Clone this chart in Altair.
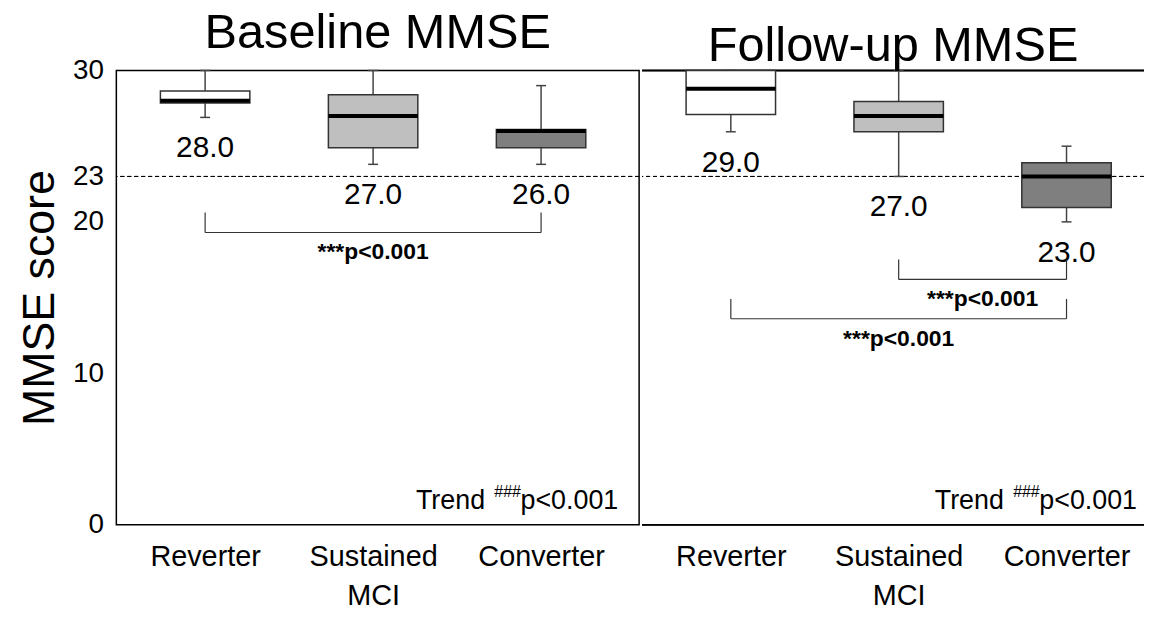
import json
import altair as alt
import pandas as pd

FONT = "Liberation Sans, Arial, Helvetica, sans-serif"

# ---------------- data ----------------
groups = ["Reverter", "Sustained MCI", "Converter"]
tick_labels = [["Reverter"], ["Sustained", "MCI"], ["Converter"]]
box_fills = ["#ffffff", "#bfbfbf", "#7f7f7f"]

# Baseline MMSE (whisker low, Q1, median, Q3, whisker high)
base_lo = [26.9, 23.8, 23.8]
base_q1 = [27.85, 24.9, 24.9]
base_med = [28.0, 27.0, 26.0]
base_q3 = [28.65, 28.4, 26.1]
base_hi = [30.0, 30.0, 29.0]
base_labels = ["28.0", "27.0", "26.0"]

# Follow-up MMSE
fu_lo = [25.95, 23.0, 20.0]
fu_q1 = [27.1, 25.95, 20.95]
fu_med = [28.8, 27.0, 23.0]
fu_q3 = [30.0, 27.95, 23.9]
fu_hi = [30.0, 30.0, 25.0]
fu_labels = ["29.0", "27.0", "23.0"]

cutoff = 23
y_ticks = [0, 10, 20, 23, 30]

base_brackets = [("Reverter", "Converter", 19.3)]
fu_brackets = [("Sustained MCI", "Converter", 16.2), ("Reverter", "Converter", 13.6)]
sig_text = "***p<0.001"
trend_parts = ["Trend", "###", "p<0.001"]

# ---------------- helpers ----------------
label_expr = json.dumps(tick_labels) + "[datum.value]"


def box_df(lo, q1, med, q3, hi, labels):
    return pd.DataFrame({
        "group": groups, "idx": list(range(len(groups))),
        "lo": lo, "q1": q1, "med": med, "q3": q3, "hi": hi, "label": labels,
    })


def bracket_df(brackets):
    rows = []
    for a, b, lvl in brackets:
        i, j = groups.index(a), groups.index(b)
        rows.append({"x1": i, "x2": j, "xm": (i + j) / 2, "level": lvl})
    return pd.DataFrame(rows)


def make_panel(df, br, title, width, x_domain, show_axis, trend_x):
    yscale = alt.Scale(domain=[0, 30], nice=False, zero=False)
    xscale = alt.Scale(domain=x_domain, nice=False, zero=False)
    if show_axis:
        yaxis = alt.Axis(values=y_ticks, title="MMSE score", titleFontSize=45,
                         titleFontWeight="normal", titleFont=FONT, titleColor="black",
                         titlePadding=10, labelFontSize=28, labelFont=FONT,
                         labelColor="black", labelPadding=13, ticks=False, tickSize=0,
                         domain=False, grid=False)
    else:
        yaxis = None
    xaxis = alt.Axis(values=[0, 1, 2], labelExpr=label_expr, labelFontSize=29,
                     labelFont=FONT, labelColor="black", labelPadding=18,
                     labelLineHeight=39, ticks=False, tickSize=0, domain=False,
                     grid=False, title=None)

    X = alt.X("idx:Q", scale=xscale, axis=xaxis)

    def Y(f):
        return alt.Y(f + ":Q", scale=yscale, axis=yaxis)

    base = alt.Chart(df)
    layers = []
    # cutoff dashed line
    layers.append(alt.Chart(df).mark_rule(color="black", strokeWidth=1, strokeDash=[4, 3]).encode(
        y=alt.YDatum(cutoff, scale=yscale, axis=yaxis)))
    if not show_axis:
        for v in (0, 30):
            layers.append(alt.Chart(df).mark_rule(color="black", strokeWidth=1.5).encode(
                y=alt.YDatum(v, scale=yscale, axis=yaxis)))
    # whiskers
    layers.append(base.mark_rule(color="#444444", strokeWidth=1.5).encode(
        x=X, y=Y("lo"), y2="hi"))
    layers.append(base.mark_tick(orient="horizontal", size=10, thickness=1.5, color="#444444",
                                 opacity=1).encode(x=X, y=Y("lo")))
    layers.append(base.mark_tick(orient="horizontal", size=10, thickness=1.5, color="#444444",
                                 opacity=1).encode(x=X, y=Y("hi")))
    # boxes
    layers.append(base.mark_bar(size=90, stroke="#333333", strokeWidth=1.5, opacity=1).encode(
        x=X, y=Y("q1"), y2="q3",
        fill=alt.Fill("group:N", scale=alt.Scale(domain=groups, range=box_fills), legend=None)))
    # medians
    layers.append(base.mark_tick(orient="horizontal", size=90, thickness=4, color="black",
                                 opacity=1).encode(x=X, y=Y("med")))
    # median labels
    layers.append(base.mark_text(baseline="top", dy=16, fontSize=30, font=FONT, color="black").encode(
        x=X, y=Y("lo"), text="label:N"))
    # brackets
    bb = alt.Chart(br)
    layers.append(bb.mark_rule(color="#333333", strokeWidth=1.2).encode(
        x=alt.X("x1:Q", scale=xscale, axis=xaxis), x2="x2:Q", y=Y("level")))
    layers.append(bb.transform_fold(["x1", "x2"], as_=["end", "xe"]).mark_rule(
        color="#333333", strokeWidth=1.2, y2Offset=-20).encode(
        x=alt.X("xe:Q", scale=xscale, axis=xaxis), y=Y("level"), y2="level:Q"))
    layers.append(bb.mark_text(baseline="top", dy=9, fontSize=23, fontWeight="bold",
                               font=FONT, color="black").encode(
        x=alt.X("xm:Q", scale=xscale, axis=xaxis), y=Y("level"), text=alt.value(sig_text)))
    # trend annotation
    tdf = pd.DataFrame({"t": [0]})
    layers.append(alt.Chart(tdf).mark_text(align="right", baseline="alphabetic", dy=-16,
                                           fontSize=27, font=FONT, color="black").encode(
        x=alt.value(trend_x), y=alt.YDatum(0, scale=yscale, axis=yaxis), text=alt.value(trend_parts[2])))
    layers.append(alt.Chart(tdf).mark_text(align="right", baseline="alphabetic", dy=-28,
                                           fontSize=16, font=FONT, color="black").encode(
        x=alt.value(trend_x - 98), y=alt.YDatum(0, scale=yscale, axis=yaxis), text=alt.value(trend_parts[1])))
    layers.append(alt.Chart(tdf).mark_text(align="right", baseline="alphabetic", dy=-16,
                                           fontSize=27, font=FONT, color="black").encode(
        x=alt.value(trend_x - 134), y=alt.YDatum(0, scale=yscale, axis=yaxis), text=alt.value(trend_parts[0])))

    view = (alt.ViewBackground(stroke="black", strokeWidth=1.5) if show_axis
            else alt.ViewBackground(stroke="transparent", strokeWidth=0))
    return alt.layer(*layers).properties(
        width=width, height=457,
        title=alt.TitleParams(title, fontSize=49, font=FONT, fontWeight="normal",
                              color="black", anchor="middle", offset=-1),
        view=view,
    )


left = make_panel(box_df(base_lo, base_q1, base_med, base_q3, base_hi, base_labels),
                  bracket_df(base_brackets), "Baseline MMSE", 526, [-0.499, 2.554], True, 505)
right = make_panel(box_df(fu_lo, fu_q1, fu_med, fu_q3, fu_hi, fu_labels),
                   bracket_df(fu_brackets), "Follow-up MMSE", 505, [-0.499, 2.432], False, 498)

chart = alt.hconcat(left, right, spacing=0).properties(
    padding={"left": 9, "top": -2, "right": 0, "bottom": 0},
    background="white",
).configure(font=FONT)

chart.save("out.html", embed_options={"renderer": "svg", "actions": False})
